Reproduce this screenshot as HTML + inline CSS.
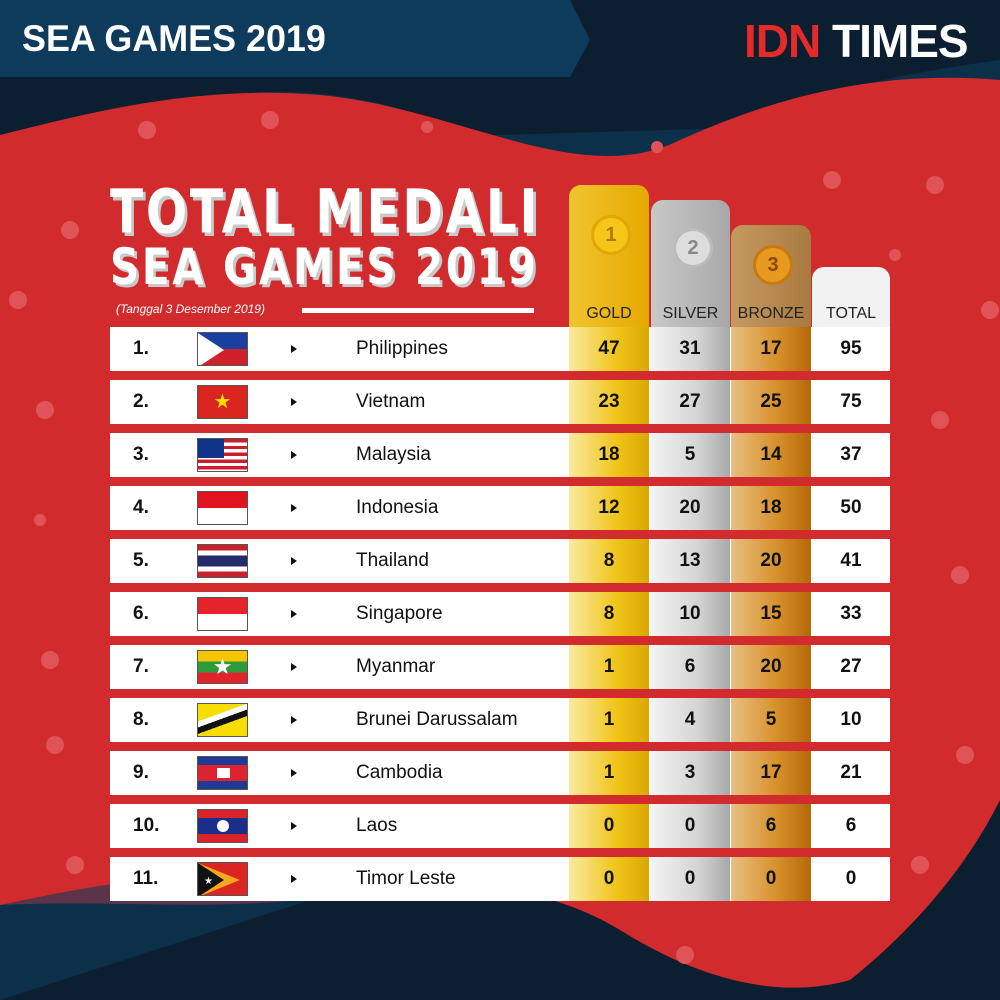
<!DOCTYPE html>
<html><head><meta charset="utf-8"><style>
body{margin:0;width:1000px;height:1000px;position:relative;overflow:hidden;font-family:"Liberation Sans",sans-serif;background:#0b1f30}
.abs{position:absolute}
.row{position:absolute;left:110px;width:780px;height:44px;background:#fff}
.row div{position:absolute;top:0;height:44px;line-height:44px;font-size:19px;color:#111}
.rk{left:23px;font-weight:bold}
.fl{left:87px;top:5px!important;width:51px;height:34px!important;overflow:hidden;border:1px solid #555;box-sizing:border-box}
.row .ar{left:181px;top:18px;width:0;height:0;border-left:6px solid #111;border-top:4px solid transparent;border-bottom:4px solid transparent}
.nm{left:246px}
.c{width:80px;text-align:center;font-weight:bold}
.g{left:459px;background:linear-gradient(90deg,#fbeaa0,#f0c418 60%,#d9a800)}
.s{left:540px;background:linear-gradient(90deg,#f4f4f4,#d4d4d4 60%,#a8a8a8)}
.b{left:621px;background:linear-gradient(90deg,#e8c080,#d58e28 60%,#b5680a)}
.t{left:702px;width:78px!important}
.hd{position:absolute;border-radius:12px 12px 0 0;text-align:center;font-size:16px;color:#222}
.medal{position:absolute;left:22px;width:34px;height:34px;border-radius:50%;font-size:20px;line-height:34px;text-align:center;font-weight:bold}
</style></head><body>
<svg class="abs" style="left:0;top:0" width="1000" height="1000">
<rect width="1000" height="1000" fill="#0b1f30"/>
<path d="M0 0H570L590 40L570 77H0Z" fill="#0e3a5c"/>
<path d="M0 150C120 120 220 80 330 95C470 110 560 200 650 160C760 110 850 80 1000 60V420C970 400 960 200 1000 120Z" fill="#0e3a5c" opacity="0.6"/>
<path d="M0 135C100 110 200 85 320 95C460 108 580 190 680 140C780 95 880 70 1000 80V800C960 880 900 940 850 980C780 1000 700 980 620 930C520 870 400 880 300 900C200 910 100 900 0 905Z" fill="#d12b2e"/>
<path d="M0 905C120 880 220 860 310 900L0 1000Z" fill="#0e3a5c" opacity="0.6"/>
<g fill="#e05458">
<circle cx="147" cy="130" r="9"/><circle cx="270" cy="120" r="9"/><circle cx="427" cy="127" r="6"/><circle cx="657" cy="147" r="6"/><circle cx="832" cy="180" r="9"/><circle cx="935" cy="185" r="9"/><circle cx="70" cy="230" r="9"/><circle cx="18" cy="300" r="9"/><circle cx="45" cy="410" r="9"/><circle cx="40" cy="520" r="6"/><circle cx="50" cy="660" r="9"/><circle cx="55" cy="745" r="9"/><circle cx="75" cy="865" r="9"/><circle cx="940" cy="420" r="9"/><circle cx="960" cy="575" r="9"/><circle cx="965" cy="755" r="9"/><circle cx="920" cy="865" r="9"/><circle cx="685" cy="955" r="9"/><circle cx="895" cy="255" r="6"/><circle cx="990" cy="310" r="9"/>
</g>
</svg>
<div class="abs" style="left:22px;top:18px;font-size:37px;font-weight:bold;color:#fff;transform:scaleX(0.97);transform-origin:left;white-space:nowrap">SEA GAMES 2019</div>
<div class="abs" style="left:744px;top:14px;font-size:46px;font-weight:bold;color:#fff;letter-spacing:-1px;white-space:nowrap"><span style="color:#e52a2a">IDN</span> TIMES</div>
<div class="abs" style="left:110px;top:176px;font-size:58px;font-weight:bold;color:#fff;letter-spacing:3px;text-shadow:3px 3px 0 #c9c9c9;font-family:'DejaVu Sans Condensed','Liberation Sans',sans-serif;transform:scale(0.93,1.05);transform-origin:left top;white-space:nowrap">TOTAL MEDALI</div>
<div class="abs" style="left:110px;top:238px;font-size:50px;font-weight:bold;color:#fff;letter-spacing:3px;text-shadow:3px 3px 0 #c9c9c9;font-family:'DejaVu Sans Condensed','Liberation Sans',sans-serif;transform:scaleX(0.9);transform-origin:left top;white-space:nowrap">SEA GAMES 2019</div>
<div class="abs" style="left:116px;top:302px;font-size:12px;font-style:italic;color:#fff">(Tanggal 3 Desember 2019)</div>
<div class="abs" style="left:302px;top:308px;width:232px;height:5px;background:#fff"></div>
<div class="hd" style="left:569px;top:185px;width:80px;height:142px;background:linear-gradient(90deg,#f0c530,#e6a800)"><div class="medal" style="top:30px;background:#f5c518;color:#b07800;border:3px solid #e0a800">1</div><div style="position:absolute;bottom:4px;width:100%">GOLD</div></div>
<div class="hd" style="left:651px;top:200px;width:79px;height:127px;background:linear-gradient(90deg,#c8c8c8,#a8a8a8)"><div class="medal" style="top:28px;background:#ddd;color:#888;border:3px solid #bbb">2</div><div style="position:absolute;bottom:4px;width:100%">SILVER</div></div>
<div class="hd" style="left:731px;top:225px;width:80px;height:102px;background:linear-gradient(90deg,#c49a60,#a87a40)"><div class="medal" style="top:20px;background:#e89a20;color:#8a4a00;border:3px solid #c87a10">3</div><div style="position:absolute;bottom:4px;width:100%">BRONZE</div></div>
<div class="hd" style="left:812px;top:267px;width:78px;height:60px;background:#f2f2f2"><div style="position:absolute;bottom:4px;width:100%">TOTAL</div></div>

<div class="row" style="top:327px"><div class="rk">1.</div><div class="fl" style="background:linear-gradient(#1b3fa0 50%,#d0202a 50%)"><svg width="51" height="34" style="position:absolute;left:0;top:0"><path d="M0 0L26 17L0 34Z" fill="#fff"/></svg></div><div class="ar"></div><div class="nm">Philippines</div><div class="c g">47</div><div class="c s">31</div><div class="c b">17</div><div class="c t">95</div></div>
<div class="row" style="top:380px"><div class="rk">2.</div><div class="fl" style="background:#d8251d;color:#ffdc00;text-align:center;line-height:32px;font-size:20px">★</div><div class="ar"></div><div class="nm">Vietnam</div><div class="c g">23</div><div class="c s">27</div><div class="c b">25</div><div class="c t">75</div></div>
<div class="row" style="top:433px"><div class="rk">3.</div><div class="fl" style="background:repeating-linear-gradient(#cc1d2a 0 3.4px,#fff 3.4px 6.8px)"><div style="position:absolute;left:0;top:0;width:26px;height:19px;background:#10338a"></div></div><div class="ar"></div><div class="nm">Malaysia</div><div class="c g">18</div><div class="c s">5</div><div class="c b">14</div><div class="c t">37</div></div>
<div class="row" style="top:486px"><div class="rk">4.</div><div class="fl" style="background:linear-gradient(#e0141e 50%,#fff 50%)"></div><div class="ar"></div><div class="nm">Indonesia</div><div class="c g">12</div><div class="c s">20</div><div class="c b">18</div><div class="c t">50</div></div>
<div class="row" style="top:539px"><div class="rk">5.</div><div class="fl" style="background:linear-gradient(#c9202c 17%,#fff 17% 33%,#252a6b 33% 67%,#fff 67% 83%,#c9202c 83%)"></div><div class="ar"></div><div class="nm">Thailand</div><div class="c g">8</div><div class="c s">13</div><div class="c b">20</div><div class="c t">41</div></div>
<div class="row" style="top:592px"><div class="rk">6.</div><div class="fl" style="background:linear-gradient(#e5232b 50%,#fff 50%)"></div><div class="ar"></div><div class="nm">Singapore</div><div class="c g">8</div><div class="c s">10</div><div class="c b">15</div><div class="c t">33</div></div>
<div class="row" style="top:645px"><div class="rk">7.</div><div class="fl" style="background:linear-gradient(#f6c500 33%,#2e9a3c 33% 67%,#e2242a 67%);color:#fff;text-align:center;line-height:32px;font-size:22px">★</div><div class="ar"></div><div class="nm">Myanmar</div><div class="c g">1</div><div class="c s">6</div><div class="c b">20</div><div class="c t">27</div></div>
<div class="row" style="top:698px"><div class="rk">8.</div><div class="fl" style="background:linear-gradient(160deg,#f7de00 35%,#fff 35% 47%,#111 47% 60%,#f7de00 60%)"></div><div class="ar"></div><div class="nm">Brunei Darussalam</div><div class="c g">1</div><div class="c s">4</div><div class="c b">5</div><div class="c t">10</div></div>
<div class="row" style="top:751px"><div class="rk">9.</div><div class="fl" style="background:linear-gradient(#1d3b94 25%,#dd2230 25% 75%,#1d3b94 75%)"><div style="position:absolute;left:19px;top:11px;width:13px;height:10px;background:#fff"></div></div><div class="ar"></div><div class="nm">Cambodia</div><div class="c g">1</div><div class="c s">3</div><div class="c b">17</div><div class="c t">21</div></div>
<div class="row" style="top:804px"><div class="rk">10.</div><div class="fl" style="background:linear-gradient(#d8232a 25%,#1b2e8a 25% 75%,#d8232a 75%)"><div style="position:absolute;left:19px;top:10px;width:12px;height:12px;border-radius:50%;background:#fff"></div></div><div class="ar"></div><div class="nm">Laos</div><div class="c g">0</div><div class="c s">0</div><div class="c b">6</div><div class="c t">6</div></div>
<div class="row" style="top:857px"><div class="rk">11.</div><div class="fl" style="background:#dc2420"><svg width="51" height="34" style="position:absolute;left:0;top:0"><path d="M0 0L42 17L0 34Z" fill="#f5a81c"/><path d="M0 0L26 17L0 34Z" fill="#111"/><text x="6" y="21" font-size="10" fill="#fff">★</text></svg></div><div class="ar"></div><div class="nm">Timor Leste</div><div class="c g">0</div><div class="c s">0</div><div class="c b">0</div><div class="c t">0</div></div>
</body></html>
